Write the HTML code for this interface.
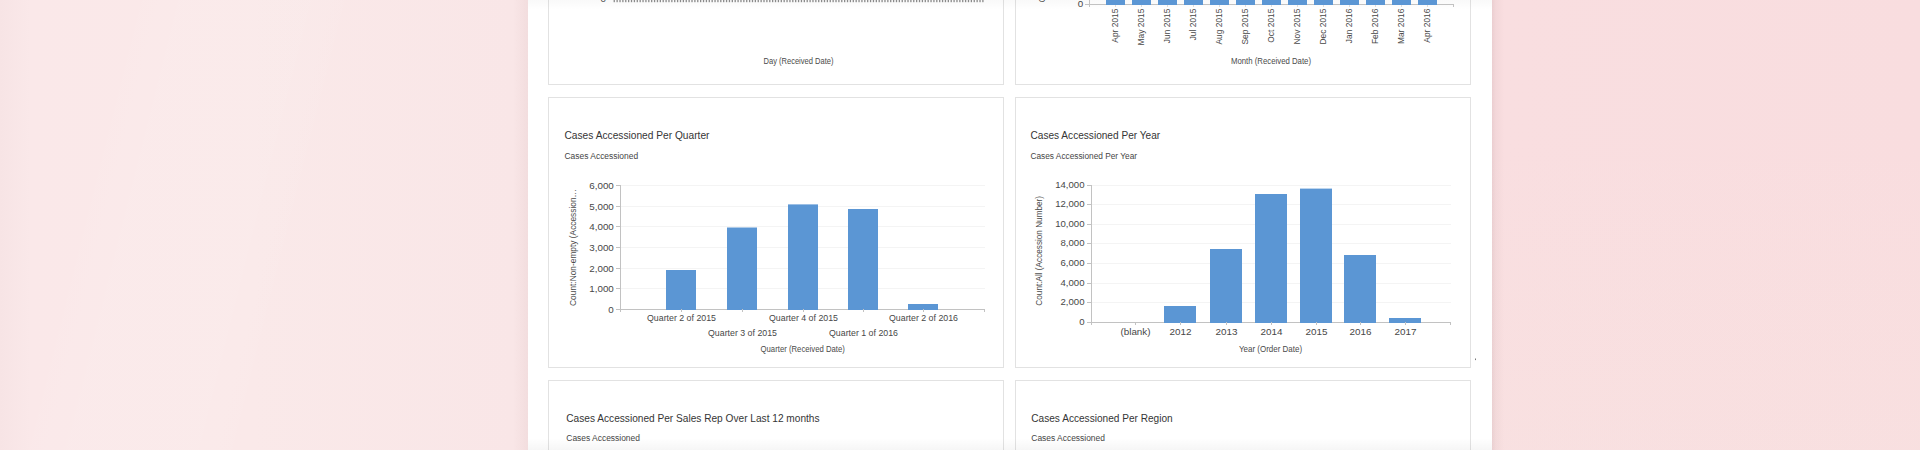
<!DOCTYPE html>
<html><head><meta charset="utf-8"><style>
html,body{margin:0;padding:0;width:1920px;height:450px;overflow:hidden;}
body{position:relative;font-family:"Liberation Sans", sans-serif;background:linear-gradient(104deg,rgba(255,255,255,0) 120px,rgba(255,255,255,0.07) 175px,rgba(255,255,255,0.07) 300px,rgba(255,255,255,0) 350px),linear-gradient(90deg,rgb(247,228,229) 0px,rgb(250,232,233) 30px,rgb(250,233,233) 250px,rgb(249,230,231) 515px,rgb(249,222,224) 1500px,rgb(249,221,223) 1920px);}
.rfade{position:absolute;left:1492px;top:0;width:428px;height:450px;background:linear-gradient(180deg,rgba(245,235,228,0) 30%,rgba(245,235,228,0.18) 100%);}
.shl{position:absolute;left:513px;top:0;width:15px;height:450px;background:linear-gradient(90deg,rgba(120,60,60,0),rgba(120,60,60,0.05));}
.shr{position:absolute;left:1492px;top:0;width:12px;height:450px;background:linear-gradient(90deg,rgba(90,40,50,0.09),rgba(90,40,50,0.04) 30%,rgba(90,40,50,0));}
.panel{position:absolute;left:528px;top:0;width:964px;height:450px;background:#fff;}
.topfade{position:absolute;left:528px;top:0;width:964px;height:10px;background:linear-gradient(rgba(0,0,0,0.025),rgba(0,0,0,0));}
.botfade{position:absolute;left:528px;top:438px;width:964px;height:12px;background:linear-gradient(rgba(0,0,0,0),rgba(0,0,0,0.035));}
.card{position:absolute;border:1px solid #e2e2e2;background:#fff;}
svg{position:absolute;left:0;top:0;}
svg text{font-family:"Liberation Sans", sans-serif;}
</style></head><body>
<div class="rfade"></div><div class="shl"></div><div class="shr"></div>
<div class="panel"></div>
<div class="card" style="left:548px;top:-186px;width:454px;height:269px"></div><div class="card" style="left:1015px;top:-186px;width:454px;height:269px"></div>
<div class="card" style="left:548px;top:97px;width:454px;height:269px"></div><div class="card" style="left:1015px;top:97px;width:454px;height:269px"></div>
<div class="card" style="left:548px;top:380px;width:454px;height:269px"></div><div class="card" style="left:1015px;top:380px;width:454px;height:269px"></div>
<div class="topfade"></div><div class="botfade"></div>
<svg width="1920" height="450" viewBox="0 0 1920 450">
<text x="564.5" y="138.8" font-size="10.2" fill="#353535" text-anchor="start" >Cases Accessioned Per Quarter</text><text x="564.5" y="158.5" font-size="8.45" fill="#454545" text-anchor="start" >Cases Accessioned</text><rect x="616" y="309" width="5" height="1" fill="#c2c2c2"/><text transform="translate(613.8,312.6) scale(1,1.0)" font-size="9.8" fill="#474747" text-anchor="end">0</text><rect x="621" y="288" width="364" height="1" fill="#f4f4f4"/><rect x="616" y="288" width="5" height="1" fill="#c2c2c2"/><text transform="translate(613.8,291.6) scale(1,1.0)" font-size="9.8" fill="#474747" text-anchor="end">1,000</text><rect x="621" y="268" width="364" height="1" fill="#f4f4f4"/><rect x="616" y="268" width="5" height="1" fill="#c2c2c2"/><text transform="translate(613.8,271.6) scale(1,1.0)" font-size="9.8" fill="#474747" text-anchor="end">2,000</text><rect x="621" y="247" width="364" height="1" fill="#f4f4f4"/><rect x="616" y="247" width="5" height="1" fill="#c2c2c2"/><text transform="translate(613.8,250.6) scale(1,1.0)" font-size="9.8" fill="#474747" text-anchor="end">3,000</text><rect x="621" y="226" width="364" height="1" fill="#f4f4f4"/><rect x="616" y="226" width="5" height="1" fill="#c2c2c2"/><text transform="translate(613.8,229.6) scale(1,1.0)" font-size="9.8" fill="#474747" text-anchor="end">4,000</text><rect x="621" y="206" width="364" height="1" fill="#f4f4f4"/><rect x="616" y="206" width="5" height="1" fill="#c2c2c2"/><text transform="translate(613.8,209.6) scale(1,1.0)" font-size="9.8" fill="#474747" text-anchor="end">5,000</text><rect x="621" y="185" width="364" height="1" fill="#f4f4f4"/><rect x="616" y="185" width="5" height="1" fill="#c2c2c2"/><text transform="translate(613.8,188.6) scale(1,1.0)" font-size="9.8" fill="#474747" text-anchor="end">6,000</text><rect x="620" y="185" width="1" height="127" fill="#c2c2c2"/><rect x="616" y="309" width="369" height="1" fill="#c2c2c2"/><rect x="984" y="309" width="1" height="3" fill="#c2c2c2"/><rect x="666" y="270" width="30" height="40" fill="rgb(91,150,212)"/><rect x="681" y="309" width="1" height="3" fill="#c2c2c2"/><text x="681.5" y="320.7" font-size="8.8" fill="#474747" text-anchor="middle" >Quarter 2 of 2015</text><rect x="727" y="227.5" width="30" height="82.5" fill="rgb(91,150,212)"/><rect x="742" y="309" width="1" height="3" fill="#c2c2c2"/><text x="742.5" y="335.5" font-size="8.8" fill="#474747" text-anchor="middle" >Quarter 3 of 2015</text><rect x="788" y="204.4" width="30" height="105.6" fill="rgb(91,150,212)"/><rect x="803" y="309" width="1" height="3" fill="#c2c2c2"/><text x="803.5" y="320.7" font-size="8.8" fill="#474747" text-anchor="middle" >Quarter 4 of 2015</text><rect x="848" y="209" width="30" height="101" fill="rgb(91,150,212)"/><rect x="863" y="309" width="1" height="3" fill="#c2c2c2"/><text x="863.5" y="335.5" font-size="8.8" fill="#474747" text-anchor="middle" >Quarter 1 of 2016</text><rect x="908" y="304" width="30" height="6" fill="rgb(91,150,212)"/><rect x="923" y="309" width="1" height="3" fill="#c2c2c2"/><text x="923.5" y="320.7" font-size="8.8" fill="#474747" text-anchor="middle" >Quarter 2 of 2016</text><text transform="translate(802.7,351.7) scale(1,1.12)" font-size="7.75" fill="#4a4a4a" text-anchor="middle">Quarter (Received Date)</text><text x="0" y="0" font-size="8.35" fill="#4a4a4a" text-anchor="middle" transform="translate(575.7,247.5) rotate(-90)">Count:Non-empty (Accession…</text><text x="1030.5" y="138.8" font-size="10.1" fill="#353535" text-anchor="start" >Cases Accessioned Per Year</text><text x="1030.5" y="158.5" font-size="8.3" fill="#454545" text-anchor="start" >Cases Accessioned Per Year</text><rect x="1087" y="322" width="5" height="1" fill="#c2c2c2"/><text transform="translate(1084.5,325.4) scale(1,1.04)" font-size="9.6" fill="#474747" text-anchor="end">0</text><rect x="1092" y="302" width="359" height="1" fill="#f4f4f4"/><rect x="1087" y="302" width="5" height="1" fill="#c2c2c2"/><text transform="translate(1084.5,305.4) scale(1,1.04)" font-size="9.6" fill="#474747" text-anchor="end">2,000</text><rect x="1092" y="283" width="359" height="1" fill="#f4f4f4"/><rect x="1087" y="283" width="5" height="1" fill="#c2c2c2"/><text transform="translate(1084.5,286.4) scale(1,1.04)" font-size="9.6" fill="#474747" text-anchor="end">4,000</text><rect x="1092" y="263" width="359" height="1" fill="#f4f4f4"/><rect x="1087" y="263" width="5" height="1" fill="#c2c2c2"/><text transform="translate(1084.5,266.4) scale(1,1.04)" font-size="9.6" fill="#474747" text-anchor="end">6,000</text><rect x="1092" y="243" width="359" height="1" fill="#f4f4f4"/><rect x="1087" y="243" width="5" height="1" fill="#c2c2c2"/><text transform="translate(1084.5,246.4) scale(1,1.04)" font-size="9.6" fill="#474747" text-anchor="end">8,000</text><rect x="1092" y="224" width="359" height="1" fill="#f4f4f4"/><rect x="1087" y="224" width="5" height="1" fill="#c2c2c2"/><text transform="translate(1084.5,227.4) scale(1,1.04)" font-size="9.6" fill="#474747" text-anchor="end">10,000</text><rect x="1092" y="204" width="359" height="1" fill="#f4f4f4"/><rect x="1087" y="204" width="5" height="1" fill="#c2c2c2"/><text transform="translate(1084.5,207.4) scale(1,1.04)" font-size="9.6" fill="#474747" text-anchor="end">12,000</text><rect x="1092" y="185" width="359" height="1" fill="#f4f4f4"/><rect x="1087" y="185" width="5" height="1" fill="#c2c2c2"/><text transform="translate(1084.5,188.4) scale(1,1.04)" font-size="9.6" fill="#474747" text-anchor="end">14,000</text><rect x="1091" y="185" width="1" height="140" fill="#c2c2c2"/><rect x="1087" y="322" width="364" height="1" fill="#c2c2c2"/><rect x="1450" y="322" width="1" height="3" fill="#c2c2c2"/><rect x="1135" y="322" width="1" height="3" fill="#c2c2c2"/><text x="1135.5" y="334.7" font-size="9.9" fill="#474747" text-anchor="middle" >(blank)</text><rect x="1164" y="306" width="32" height="17" fill="rgb(91,150,212)"/><rect x="1180" y="322" width="1" height="3" fill="#c2c2c2"/><text x="1180.5" y="334.7" font-size="9.9" fill="#474747" text-anchor="middle" >2012</text><rect x="1210" y="249" width="32" height="74" fill="rgb(91,150,212)"/><rect x="1226" y="322" width="1" height="3" fill="#c2c2c2"/><text x="1226.5" y="334.7" font-size="9.9" fill="#474747" text-anchor="middle" >2013</text><rect x="1255" y="194" width="32" height="129" fill="rgb(91,150,212)"/><rect x="1271" y="322" width="1" height="3" fill="#c2c2c2"/><text x="1271.5" y="334.7" font-size="9.9" fill="#474747" text-anchor="middle" >2014</text><rect x="1300" y="188.6" width="32" height="134.4" fill="rgb(91,150,212)"/><rect x="1316" y="322" width="1" height="3" fill="#c2c2c2"/><text x="1316.5" y="334.7" font-size="9.9" fill="#474747" text-anchor="middle" >2015</text><rect x="1344" y="255" width="32" height="68" fill="rgb(91,150,212)"/><rect x="1360" y="322" width="1" height="3" fill="#c2c2c2"/><text x="1360.5" y="334.7" font-size="9.9" fill="#474747" text-anchor="middle" >2016</text><rect x="1389" y="318" width="32" height="5" fill="rgb(91,150,212)"/><rect x="1405" y="322" width="1" height="3" fill="#c2c2c2"/><text x="1405.5" y="334.7" font-size="9.9" fill="#474747" text-anchor="middle" >2017</text><text transform="translate(1270.5,351.6) scale(1,1.1)" font-size="8.0" fill="#4a4a4a" text-anchor="middle">Year (Order Date)</text><text x="0" y="0" font-size="8.2" fill="#4a4a4a" text-anchor="middle" transform="translate(1041.5,250.8) rotate(-90)">Count:All (Accession Number)</text><text x="606" y="1.7" font-size="9.8" fill="#474747" text-anchor="end" >0</text><rect x="613.6" y="0" width="1.3" height="2.2" fill="#8a8a8a"/><rect x="616.48" y="0" width="1.3" height="2.2" fill="#8a8a8a"/><rect x="619.36" y="0" width="1.3" height="2.2" fill="#8a8a8a"/><rect x="622.24" y="0" width="1.3" height="2.2" fill="#8a8a8a"/><rect x="625.12" y="0" width="1.3" height="2.2" fill="#8a8a8a"/><rect x="628.0" y="0" width="1.3" height="2.2" fill="#8a8a8a"/><rect x="630.88" y="0" width="1.3" height="2.2" fill="#8a8a8a"/><rect x="633.76" y="0" width="1.3" height="2.2" fill="#8a8a8a"/><rect x="636.64" y="0" width="1.3" height="2.2" fill="#8a8a8a"/><rect x="639.52" y="0" width="1.3" height="2.2" fill="#8a8a8a"/><rect x="642.4" y="0" width="1.3" height="2.2" fill="#8a8a8a"/><rect x="645.28" y="0" width="1.3" height="2.2" fill="#8a8a8a"/><rect x="648.16" y="0" width="1.3" height="2.2" fill="#8a8a8a"/><rect x="651.04" y="0" width="1.3" height="2.2" fill="#8a8a8a"/><rect x="653.92" y="0" width="1.3" height="2.2" fill="#8a8a8a"/><rect x="656.8" y="0" width="1.3" height="2.2" fill="#8a8a8a"/><rect x="659.68" y="0" width="1.3" height="2.2" fill="#8a8a8a"/><rect x="662.56" y="0" width="1.3" height="2.2" fill="#8a8a8a"/><rect x="665.4399999999999" y="0" width="1.3" height="2.2" fill="#8a8a8a"/><rect x="668.3199999999999" y="0" width="1.3" height="2.2" fill="#8a8a8a"/><rect x="671.1999999999999" y="0" width="1.3" height="2.2" fill="#8a8a8a"/><rect x="674.0799999999999" y="0" width="1.3" height="2.2" fill="#8a8a8a"/><rect x="676.9599999999999" y="0" width="1.3" height="2.2" fill="#8a8a8a"/><rect x="679.8399999999999" y="0" width="1.3" height="2.2" fill="#8a8a8a"/><rect x="682.7199999999999" y="0" width="1.3" height="2.2" fill="#8a8a8a"/><rect x="685.5999999999999" y="0" width="1.3" height="2.2" fill="#8a8a8a"/><rect x="688.4799999999999" y="0" width="1.3" height="2.2" fill="#8a8a8a"/><rect x="691.3599999999999" y="0" width="1.3" height="2.2" fill="#8a8a8a"/><rect x="694.2399999999999" y="0" width="1.3" height="2.2" fill="#8a8a8a"/><rect x="697.1199999999999" y="0" width="1.3" height="2.2" fill="#8a8a8a"/><rect x="699.9999999999999" y="0" width="1.3" height="2.2" fill="#8a8a8a"/><rect x="702.8799999999999" y="0" width="1.3" height="2.2" fill="#8a8a8a"/><rect x="705.7599999999999" y="0" width="1.3" height="2.2" fill="#8a8a8a"/><rect x="708.6399999999999" y="0" width="1.3" height="2.2" fill="#8a8a8a"/><rect x="711.5199999999999" y="0" width="1.3" height="2.2" fill="#8a8a8a"/><rect x="714.3999999999999" y="0" width="1.3" height="2.2" fill="#8a8a8a"/><rect x="717.2799999999999" y="0" width="1.3" height="2.2" fill="#8a8a8a"/><rect x="720.1599999999999" y="0" width="1.3" height="2.2" fill="#8a8a8a"/><rect x="723.0399999999998" y="0" width="1.3" height="2.2" fill="#8a8a8a"/><rect x="725.9199999999998" y="0" width="1.3" height="2.2" fill="#8a8a8a"/><rect x="728.7999999999998" y="0" width="1.3" height="2.2" fill="#8a8a8a"/><rect x="731.6799999999998" y="0" width="1.3" height="2.2" fill="#8a8a8a"/><rect x="734.5599999999998" y="0" width="1.3" height="2.2" fill="#8a8a8a"/><rect x="737.4399999999998" y="0" width="1.3" height="2.2" fill="#8a8a8a"/><rect x="740.3199999999998" y="0" width="1.3" height="2.2" fill="#8a8a8a"/><rect x="743.1999999999998" y="0" width="1.3" height="2.2" fill="#8a8a8a"/><rect x="746.0799999999998" y="0" width="1.3" height="2.2" fill="#8a8a8a"/><rect x="748.9599999999998" y="0" width="1.3" height="2.2" fill="#8a8a8a"/><rect x="751.8399999999998" y="0" width="1.3" height="2.2" fill="#8a8a8a"/><rect x="754.7199999999998" y="0" width="1.3" height="2.2" fill="#8a8a8a"/><rect x="757.5999999999998" y="0" width="1.3" height="2.2" fill="#8a8a8a"/><rect x="760.4799999999998" y="0" width="1.3" height="2.2" fill="#8a8a8a"/><rect x="763.3599999999998" y="0" width="1.3" height="2.2" fill="#8a8a8a"/><rect x="766.2399999999998" y="0" width="1.3" height="2.2" fill="#8a8a8a"/><rect x="769.1199999999998" y="0" width="1.3" height="2.2" fill="#8a8a8a"/><rect x="771.9999999999998" y="0" width="1.3" height="2.2" fill="#8a8a8a"/><rect x="774.8799999999998" y="0" width="1.3" height="2.2" fill="#8a8a8a"/><rect x="777.7599999999998" y="0" width="1.3" height="2.2" fill="#8a8a8a"/><rect x="780.6399999999998" y="0" width="1.3" height="2.2" fill="#8a8a8a"/><rect x="783.5199999999998" y="0" width="1.3" height="2.2" fill="#8a8a8a"/><rect x="786.3999999999997" y="0" width="1.3" height="2.2" fill="#8a8a8a"/><rect x="789.2799999999997" y="0" width="1.3" height="2.2" fill="#8a8a8a"/><rect x="792.1599999999997" y="0" width="1.3" height="2.2" fill="#8a8a8a"/><rect x="795.0399999999997" y="0" width="1.3" height="2.2" fill="#8a8a8a"/><rect x="797.9199999999997" y="0" width="1.3" height="2.2" fill="#8a8a8a"/><rect x="800.7999999999997" y="0" width="1.3" height="2.2" fill="#8a8a8a"/><rect x="803.6799999999997" y="0" width="1.3" height="2.2" fill="#8a8a8a"/><rect x="806.5599999999997" y="0" width="1.3" height="2.2" fill="#8a8a8a"/><rect x="809.4399999999997" y="0" width="1.3" height="2.2" fill="#8a8a8a"/><rect x="812.3199999999997" y="0" width="1.3" height="2.2" fill="#8a8a8a"/><rect x="815.1999999999997" y="0" width="1.3" height="2.2" fill="#8a8a8a"/><rect x="818.0799999999997" y="0" width="1.3" height="2.2" fill="#8a8a8a"/><rect x="820.9599999999997" y="0" width="1.3" height="2.2" fill="#8a8a8a"/><rect x="823.8399999999997" y="0" width="1.3" height="2.2" fill="#8a8a8a"/><rect x="826.7199999999997" y="0" width="1.3" height="2.2" fill="#8a8a8a"/><rect x="829.5999999999997" y="0" width="1.3" height="2.2" fill="#8a8a8a"/><rect x="832.4799999999997" y="0" width="1.3" height="2.2" fill="#8a8a8a"/><rect x="835.3599999999997" y="0" width="1.3" height="2.2" fill="#8a8a8a"/><rect x="838.2399999999997" y="0" width="1.3" height="2.2" fill="#8a8a8a"/><rect x="841.1199999999997" y="0" width="1.3" height="2.2" fill="#8a8a8a"/><rect x="843.9999999999997" y="0" width="1.3" height="2.2" fill="#8a8a8a"/><rect x="846.8799999999997" y="0" width="1.3" height="2.2" fill="#8a8a8a"/><rect x="849.7599999999996" y="0" width="1.3" height="2.2" fill="#8a8a8a"/><rect x="852.6399999999996" y="0" width="1.3" height="2.2" fill="#8a8a8a"/><rect x="855.5199999999996" y="0" width="1.3" height="2.2" fill="#8a8a8a"/><rect x="858.3999999999996" y="0" width="1.3" height="2.2" fill="#8a8a8a"/><rect x="861.2799999999996" y="0" width="1.3" height="2.2" fill="#8a8a8a"/><rect x="864.1599999999996" y="0" width="1.3" height="2.2" fill="#8a8a8a"/><rect x="867.0399999999996" y="0" width="1.3" height="2.2" fill="#8a8a8a"/><rect x="869.9199999999996" y="0" width="1.3" height="2.2" fill="#8a8a8a"/><rect x="872.7999999999996" y="0" width="1.3" height="2.2" fill="#8a8a8a"/><rect x="875.6799999999996" y="0" width="1.3" height="2.2" fill="#8a8a8a"/><rect x="878.5599999999996" y="0" width="1.3" height="2.2" fill="#8a8a8a"/><rect x="881.4399999999996" y="0" width="1.3" height="2.2" fill="#8a8a8a"/><rect x="884.3199999999996" y="0" width="1.3" height="2.2" fill="#8a8a8a"/><rect x="887.1999999999996" y="0" width="1.3" height="2.2" fill="#8a8a8a"/><rect x="890.0799999999996" y="0" width="1.3" height="2.2" fill="#8a8a8a"/><rect x="892.9599999999996" y="0" width="1.3" height="2.2" fill="#8a8a8a"/><rect x="895.8399999999996" y="0" width="1.3" height="2.2" fill="#8a8a8a"/><rect x="898.7199999999996" y="0" width="1.3" height="2.2" fill="#8a8a8a"/><rect x="901.5999999999996" y="0" width="1.3" height="2.2" fill="#8a8a8a"/><rect x="904.4799999999996" y="0" width="1.3" height="2.2" fill="#8a8a8a"/><rect x="907.3599999999996" y="0" width="1.3" height="2.2" fill="#8a8a8a"/><rect x="910.2399999999996" y="0" width="1.3" height="2.2" fill="#8a8a8a"/><rect x="913.1199999999995" y="0" width="1.3" height="2.2" fill="#8a8a8a"/><rect x="915.9999999999995" y="0" width="1.3" height="2.2" fill="#8a8a8a"/><rect x="918.8799999999995" y="0" width="1.3" height="2.2" fill="#8a8a8a"/><rect x="921.7599999999995" y="0" width="1.3" height="2.2" fill="#8a8a8a"/><rect x="924.6399999999995" y="0" width="1.3" height="2.2" fill="#8a8a8a"/><rect x="927.5199999999995" y="0" width="1.3" height="2.2" fill="#8a8a8a"/><rect x="930.3999999999995" y="0" width="1.3" height="2.2" fill="#8a8a8a"/><rect x="933.2799999999995" y="0" width="1.3" height="2.2" fill="#8a8a8a"/><rect x="936.1599999999995" y="0" width="1.3" height="2.2" fill="#8a8a8a"/><rect x="939.0399999999995" y="0" width="1.3" height="2.2" fill="#8a8a8a"/><rect x="941.9199999999995" y="0" width="1.3" height="2.2" fill="#8a8a8a"/><rect x="944.7999999999995" y="0" width="1.3" height="2.2" fill="#8a8a8a"/><rect x="947.6799999999995" y="0" width="1.3" height="2.2" fill="#8a8a8a"/><rect x="950.5599999999995" y="0" width="1.3" height="2.2" fill="#8a8a8a"/><rect x="953.4399999999995" y="0" width="1.3" height="2.2" fill="#8a8a8a"/><rect x="956.3199999999995" y="0" width="1.3" height="2.2" fill="#8a8a8a"/><rect x="959.1999999999995" y="0" width="1.3" height="2.2" fill="#8a8a8a"/><rect x="962.0799999999995" y="0" width="1.3" height="2.2" fill="#8a8a8a"/><rect x="964.9599999999995" y="0" width="1.3" height="2.2" fill="#8a8a8a"/><rect x="967.8399999999995" y="0" width="1.3" height="2.2" fill="#8a8a8a"/><rect x="970.7199999999995" y="0" width="1.3" height="2.2" fill="#8a8a8a"/><rect x="973.5999999999995" y="0" width="1.3" height="2.2" fill="#8a8a8a"/><rect x="976.4799999999994" y="0" width="1.3" height="2.2" fill="#8a8a8a"/><rect x="979.3599999999994" y="0" width="1.3" height="2.2" fill="#8a8a8a"/><rect x="982.2399999999994" y="0" width="1.3" height="2.2" fill="#8a8a8a"/><text transform="translate(798.5,64.4) scale(1,1.1)" font-size="7.55" fill="#4a4a4a" text-anchor="middle">Day (Received Date)</text><rect x="1085" y="4" width="369" height="1" fill="#c2c2c2"/><rect x="1089" y="0" width="1" height="7" fill="#c2c2c2"/><rect x="1453" y="4" width="1" height="3" fill="#c2c2c2"/><text x="1083.3" y="7.4" font-size="9.8" fill="#474747" text-anchor="end" >0</text><rect x="1106" y="-5" width="19" height="10" fill="rgb(91,150,212)"/><rect x="1115" y="5" width="1" height="2" fill="#dddddd"/><text x="0" y="0" font-size="8.4" fill="#474747" text-anchor="end" transform="translate(1118.3,8.6) rotate(-90)">Apr 2015</text><rect x="1132" y="-5" width="19" height="10" fill="rgb(91,150,212)"/><rect x="1141" y="5" width="1" height="2" fill="#dddddd"/><text x="0" y="0" font-size="8.4" fill="#474747" text-anchor="end" transform="translate(1144.3,8.6) rotate(-90)">May 2015</text><rect x="1158" y="-5" width="19" height="10" fill="rgb(91,150,212)"/><rect x="1167" y="5" width="1" height="2" fill="#dddddd"/><text x="0" y="0" font-size="8.4" fill="#474747" text-anchor="end" transform="translate(1170.3,8.6) rotate(-90)">Jun 2015</text><rect x="1184" y="-5" width="19" height="10" fill="rgb(91,150,212)"/><rect x="1193" y="5" width="1" height="2" fill="#dddddd"/><text x="0" y="0" font-size="8.4" fill="#474747" text-anchor="end" transform="translate(1196.3,8.6) rotate(-90)">Jul 2015</text><rect x="1210" y="-5" width="19" height="10" fill="rgb(91,150,212)"/><rect x="1219" y="5" width="1" height="2" fill="#dddddd"/><text x="0" y="0" font-size="8.4" fill="#474747" text-anchor="end" transform="translate(1222.3,8.6) rotate(-90)">Aug 2015</text><rect x="1236" y="-5" width="19" height="10" fill="rgb(91,150,212)"/><rect x="1245" y="5" width="1" height="2" fill="#dddddd"/><text x="0" y="0" font-size="8.4" fill="#474747" text-anchor="end" transform="translate(1248.3,8.6) rotate(-90)">Sep 2015</text><rect x="1262" y="-5" width="19" height="10" fill="rgb(91,150,212)"/><rect x="1271" y="5" width="1" height="2" fill="#dddddd"/><text x="0" y="0" font-size="8.4" fill="#474747" text-anchor="end" transform="translate(1274.3,8.6) rotate(-90)">Oct 2015</text><rect x="1288" y="-5" width="19" height="10" fill="rgb(91,150,212)"/><rect x="1297" y="5" width="1" height="2" fill="#dddddd"/><text x="0" y="0" font-size="8.4" fill="#474747" text-anchor="end" transform="translate(1300.3,8.6) rotate(-90)">Nov 2015</text><rect x="1314" y="-5" width="19" height="10" fill="rgb(91,150,212)"/><rect x="1323" y="5" width="1" height="2" fill="#dddddd"/><text x="0" y="0" font-size="8.4" fill="#474747" text-anchor="end" transform="translate(1326.3,8.6) rotate(-90)">Dec 2015</text><rect x="1340" y="-5" width="19" height="10" fill="rgb(91,150,212)"/><rect x="1349" y="5" width="1" height="2" fill="#dddddd"/><text x="0" y="0" font-size="8.4" fill="#474747" text-anchor="end" transform="translate(1352.3,8.6) rotate(-90)">Jan 2016</text><rect x="1366" y="-5" width="19" height="10" fill="rgb(91,150,212)"/><rect x="1375" y="5" width="1" height="2" fill="#dddddd"/><text x="0" y="0" font-size="8.4" fill="#474747" text-anchor="end" transform="translate(1378.3,8.6) rotate(-90)">Feb 2016</text><rect x="1392" y="-5" width="19" height="10" fill="rgb(91,150,212)"/><rect x="1401" y="5" width="1" height="2" fill="#dddddd"/><text x="0" y="0" font-size="8.4" fill="#474747" text-anchor="end" transform="translate(1404.3,8.6) rotate(-90)">Mar 2016</text><rect x="1418" y="-5" width="19" height="10" fill="rgb(91,150,212)"/><rect x="1427" y="5" width="1" height="2" fill="#dddddd"/><text x="0" y="0" font-size="8.4" fill="#474747" text-anchor="end" transform="translate(1430.3,8.6) rotate(-90)">Apr 2016</text><text transform="translate(1271,64.3) scale(1,1.07)" font-size="7.8" fill="#4a4a4a" text-anchor="middle">Month (Received Date)</text><text x="0" y="0" font-size="8.2" fill="#4a4a4a" text-anchor="middle" transform="translate(1044.5,-52.3) rotate(-90)">Count:All (Accession Number)</text><rect x="1475" y="358.5" width="1" height="1.6" fill="#777777"/><text x="566.3" y="421.8" font-size="10.15" fill="#353535" text-anchor="start" >Cases Accessioned Per Sales Rep Over Last 12 months</text><text x="566.3" y="441.3" font-size="8.45" fill="#454545" text-anchor="start" >Cases Accessioned</text><text x="1031.3" y="421.8" font-size="10.1" fill="#353535" text-anchor="start" >Cases Accessioned Per Region</text><text x="1031.3" y="441.3" font-size="8.45" fill="#454545" text-anchor="start" >Cases Accessioned</text>
</svg>
</body></html>
